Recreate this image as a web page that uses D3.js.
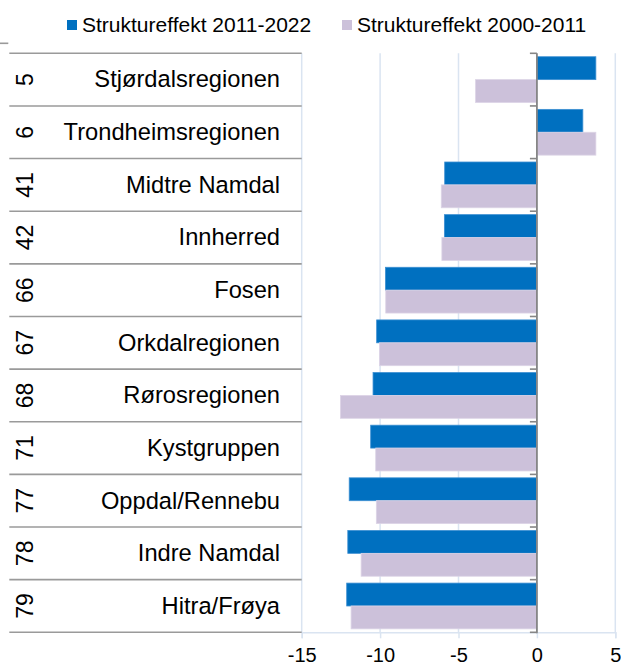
<!DOCTYPE html>
<html>
<head>
<meta charset="utf-8">
<script src="https://cdn.jsdelivr.net/npm/d3@7"></script>
<style>
  html, body { margin: 0; padding: 0; background: #fff; }
  svg { display: block; font-family: "Liberation Sans", Arial, sans-serif; }
</style>
</head>
<body>
<svg id="chart" width="621" height="666"></svg>
<script>
// ---- data ----
const categories = ["Stjørdalsregionen", "Trondheimsregionen", "Midtre Namdal", "Innherred", "Fosen",
  "Orkdalregionen", "Rørosregionen", "Kystgruppen", "Oppdal/Rennebu", "Indre Namdal", "Hitra/Frøya"];
const codes = ["5", "6", "41", "42", "66", "67", "68", "71", "77", "78", "79"];
const seriesNames = ["Struktureffekt 2011-2022", "Struktureffekt 2000-2011"];
const values2011_2022 = [3.76, 2.93, -5.88, -5.9, -9.66, -10.22, -10.45, -10.6, -11.97, -12.06, -12.13];
const values2000_2011 = [-3.91, 3.76, -6.1, -6.06, -9.64, -10.04, -12.53, -10.28, -10.24, -11.21, -11.85];
const xTicks = [-15, -10, -5, 0, 5];

// ---- layout ----
const colors = ["#0070C0", "#CCC1DA"];
const strokes = ["#3C8FD2", "#DCD4E6"];
const plot = { left: 301.7, right: 615.3, top: 53.3, bottom: 632.3 };
const tableLeft = 9.3;

const svg = d3.select("#chart");

const x = d3.scaleLinear().domain([-15, 5]).range([plot.left, plot.right]);
const y = d3.scaleBand().domain(categories).range([plot.top, plot.bottom]).padding(0);
const ySub = d3.scaleBand().domain(seriesNames).range([0, y.bandwidth()])
  .paddingInner(0).paddingOuter(0.15);

// vertical gridlines
svg.append("g").selectAll("line").data(xTicks).join("line")
  .attr("x1", d => x(d)).attr("x2", d => x(d))
  .attr("y1", plot.top).attr("y2", plot.bottom)
  .attr("stroke", "#DAE4F1").attr("stroke-width", 1.5);

// bottom axis
const xAxis = d3.axisBottom(x).tickValues(xTicks).tickSize(6).tickFormat(d => d < 0 ? "-" + Math.abs(d) : d);
const gx = svg.append("g").attr("transform", `translate(0,${plot.bottom})`).call(xAxis);
gx.select(".domain").attr("stroke", "#DAE4F1").attr("stroke-width", 1.5);
gx.selectAll(".tick line").attr("stroke", "#DAE4F1").attr("stroke-width", 1.5);
gx.selectAll(".tick text").attr("y", 29.5).attr("dy", 0)
  .attr("font-size", 20).attr("fill", "#000")
  .attr("font-family", "'Liberation Sans', Arial, sans-serif");

// table horizontal lines (row boundaries)
const bounds = categories.map(c => y(c)).concat([plot.bottom]);
svg.append("g").selectAll("line").data(bounds).join("line")
  .attr("x1", tableLeft).attr("x2", plot.left)
  .attr("y1", d => d).attr("y2", d => d)
  .attr("stroke", "#9A9A9A").attr("stroke-width", 1.6);
// small top-left line
svg.append("line").attr("x1", 0).attr("x2", 8.3).attr("y1", 43.3).attr("y2", 43.3)
  .attr("stroke", "#9A9A9A").attr("stroke-width", 1.6);

// bars
const rows = categories.map((c, i) => ({ cat: c, vals: [values2011_2022[i], values2000_2011[i]] }));
const gRow = svg.append("g").selectAll("g").data(rows).join("g")
  .attr("transform", d => `translate(0,${y(d.cat)})`);
gRow.selectAll("rect").data(d => d.vals.map((v, k) => ({ v, k }))).join("rect")
  .attr("x", d => Math.min(x(0), x(d.v)))
  .attr("width", d => Math.abs(x(d.v) - x(0)))
  .attr("y", d => ySub(seriesNames[d.k]))
  .attr("height", ySub.bandwidth())
  .attr("fill", d => colors[d.k])
  .attr("stroke", d => strokes[d.k]).attr("stroke-width", 0.8);

// zero axis line with category tick marks
svg.append("line").attr("x1", x(0)).attr("x2", x(0)).attr("y1", plot.top).attr("y2", plot.bottom + 1)
  .attr("stroke", "#868686").attr("stroke-width", 1.8);
svg.append("g").selectAll("line").data(bounds).join("line")
  .attr("x1", x(0) - 7).attr("x2", x(0))
  .attr("y1", d => d).attr("y2", d => d)
  .attr("stroke", "#868686").attr("stroke-width", 1.6);

// category labels
svg.append("g").selectAll("text").data(categories).join("text")
  .attr("x", 280).attr("y", d => y(d) + y.bandwidth() / 2 + 7.8)
  .attr("text-anchor", "end").attr("font-size", 23.7).attr("fill", "#000")
  .text(d => d);

// code labels (rotated)
svg.append("g").selectAll("text").data(categories).join("text")
  .attr("transform", (d, i) => `translate(33.3,${y(d) + y.bandwidth() / 2}) rotate(-90)`)
  .attr("text-anchor", "middle").attr("font-size", 23).attr("fill", "#000")
  .text((d, i) => codes[i]);

// legend
const legendX = [67, 342];
const lg = svg.append("g").selectAll("g").data(seriesNames).join("g")
  .attr("transform", (d, i) => `translate(${legendX[i]},0)`);
lg.append("rect").attr("x", 0).attr("y", 20).attr("width", 10).attr("height", 10)
  .attr("fill", (d, i) => colors[i]);
lg.append("text").attr("x", 15).attr("y", 32.3).attr("font-size", 21).attr("fill", "#000")
  .text(d => d);
</script>
</body>
</html>
